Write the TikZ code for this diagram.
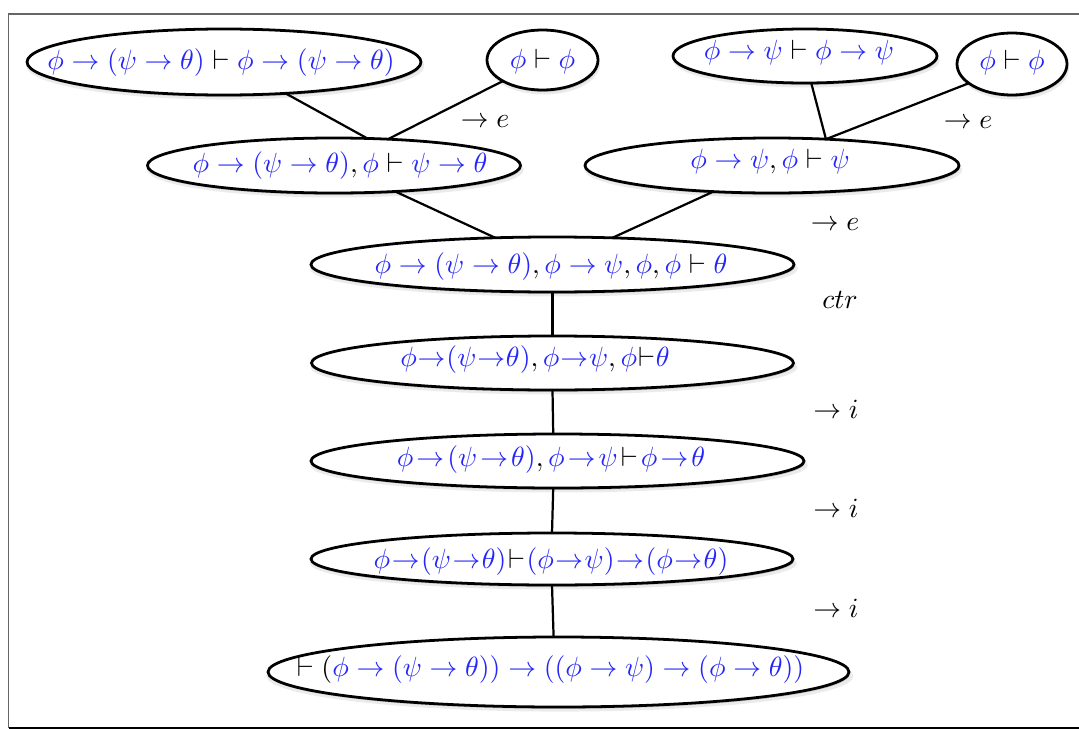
\documentclass[tikz,border=0pt]{standalone}
\usepackage{xcolor}
\usetikzlibrary{shapes.geometric,shadows}
\definecolor{tb}{RGB}{38,38,250}
\newlength\upx \setlength\upx{0.36pt}
\newcommand{\Tu}{\mathrel{\textcolor{black}{\vdash}}}
\newcommand{\Cm}{\mathpunct{\textcolor{black}{,}}}
\newcommand{\Ft}[4]{\raisebox{#2\upx}{\makebox[0pt]{\hspace*{#1\upx}\hspace*{#1\upx}$\thickmuskip=#3\color{tb}#4$}}}
\tikzset{
  ell/.style 2 args={ellipse, draw=black, line width=1pt, fill=white,
    inner sep=0pt, outer sep=0pt,
    minimum width={#1*0.72pt}, minimum height={#2*0.72pt},
    text height=7.5pt, text depth=2.5pt,
    general shadow={fill=black, opacity=0.16, shadow xshift=0.3pt, shadow yshift=-0.7pt},
    general shadow={fill=black, opacity=0.08, shadow xshift=0.5pt, shadow yshift=-1.5pt, shadow scale=1.01}},
  conn/.style={draw=black, line width=0.8pt},
  lab/.style={anchor=base, inner sep=0pt, text=black},
  frameline/.style={draw=black!60, line width=0.5pt}
}
\begin{document}
\begin{tikzpicture}[x=0.36pt, y=-0.36pt]
\useasboundingbox (0,0) rectangle (1079,729);
% frame
\coordinate (ftr) at (1079,14);
\coordinate (ftl) at (8.5,14);
\coordinate (fbl) at (8.5,728);
\coordinate (fbr) at (1079,728);
\draw[frameline] (ftr) -- (ftl) -- (fbl);
\draw[black, line width=0.55pt] (fbl) -- (fbr);

% nodes
\node[ell={197}{33}] (A) at (224,62)
  {\Ft{-3}{-1}{5mu plus 5mu}{\phi\to(\psi\to\theta)\Tu\phi\to(\psi\to\theta)}};
\node[ell={55.5}{30}] (B) at (542.5,60)
  {\Ft{0}{-2}{5mu plus 5mu}{\phi\Tu\phi}};
\node[ell={132}{27}] (C) at (805,56)
  {\Ft{-6}{3}{5mu plus 5mu}{\phi\to\psi\Tu\phi\to\psi}};
\node[ell={55}{31}] (D) at (1012,64)
  {\Ft{0}{1}{5mu plus 5mu}{\phi\Tu\phi}};
\node[ell={186.5}{27.5}] (E) at (334,165.5)
  {\Ft{6}{0}{5mu plus 5mu}{\phi\to(\psi\to\theta)\Cm\phi\Tu\psi\to\theta}};
\node[ell={187}{27.5}] (F) at (772,165.5)
  {\Ft{-2}{3.5}{5mu plus 5mu}{\phi\to\psi\Cm\phi\Tu\psi}};
\node[ell={241.5}{27.5}] (G) at (552.5,264.5)
  {\Ft{-1.5}{-2.5}{5mu plus 5mu}{\phi\to(\psi\to\theta)\Cm\phi\to\psi\Cm\phi\Cm\phi\Tu\theta}};
\node[ell={241}{27}] (H) at (552.5,363)
  {\Ft{-17.5}{3}{0.6mu}{\phi\to(\psi\to\theta)\Cm\phi\to\psi\Cm\phi\Tu\theta}};
\node[ell={246.5}{27}] (I) at (557.5,461)
  {\Ft{-6.5}{1}{2mu}{\phi\to(\psi\to\theta)\Cm\phi\to\psi\Tu\phi\to\theta}};
\node[ell={241}{26}] (J) at (552,559)
  {\Ft{-1}{-3}{1mu}{\phi\to(\psi\to\theta)\Tu(\phi\to\psi)\to(\phi\to\theta)}};
\node[ell={290.5}{35}] (K) at (558.5,672)
  {\Ft{-8}{2}{5mu plus 5mu}{\Tu\textcolor{black}{(}\phi\to(\psi\to\theta))\to((\phi\to\psi)\to(\phi\to\theta))}};

% connectors
\draw[conn] (A.-27.9) -- (E.39.4);
\draw[conn] (B.-152) -- (E.26);
\draw[conn] (C.-77.5) -- (F.26.7);
\draw[conn] (D.-156.6) -- (F.26.7);
\draw[conn] (E.-23.1) -- (G.155.5);
\draw[conn] (F.-156.6) -- (G.24.2);
\draw[conn] (G.-90) -- (H.90);
\draw[conn] (H.-90) -- (I.99.5);
\draw[conn] (I.-99.5) -- (J.90);
\draw[conn] (J.-90) -- (K.98.9);

% rule labels
\node[lab] (l1) at (485,127) {$\to e$};
\node[lab] (l2) at (968,128) {$\to e$};
\node[lab] (l3) at (835,230) {$\to e$};
\node[lab] (l4) at (840,308) {$ctr$};
\node[lab] (l5) at (836,418) {$\to i$};
\node[lab] (l6) at (836,517) {$\to i$};
\node[lab] (l7) at (836,617) {$\to i$};
\end{tikzpicture}
\end{document}
